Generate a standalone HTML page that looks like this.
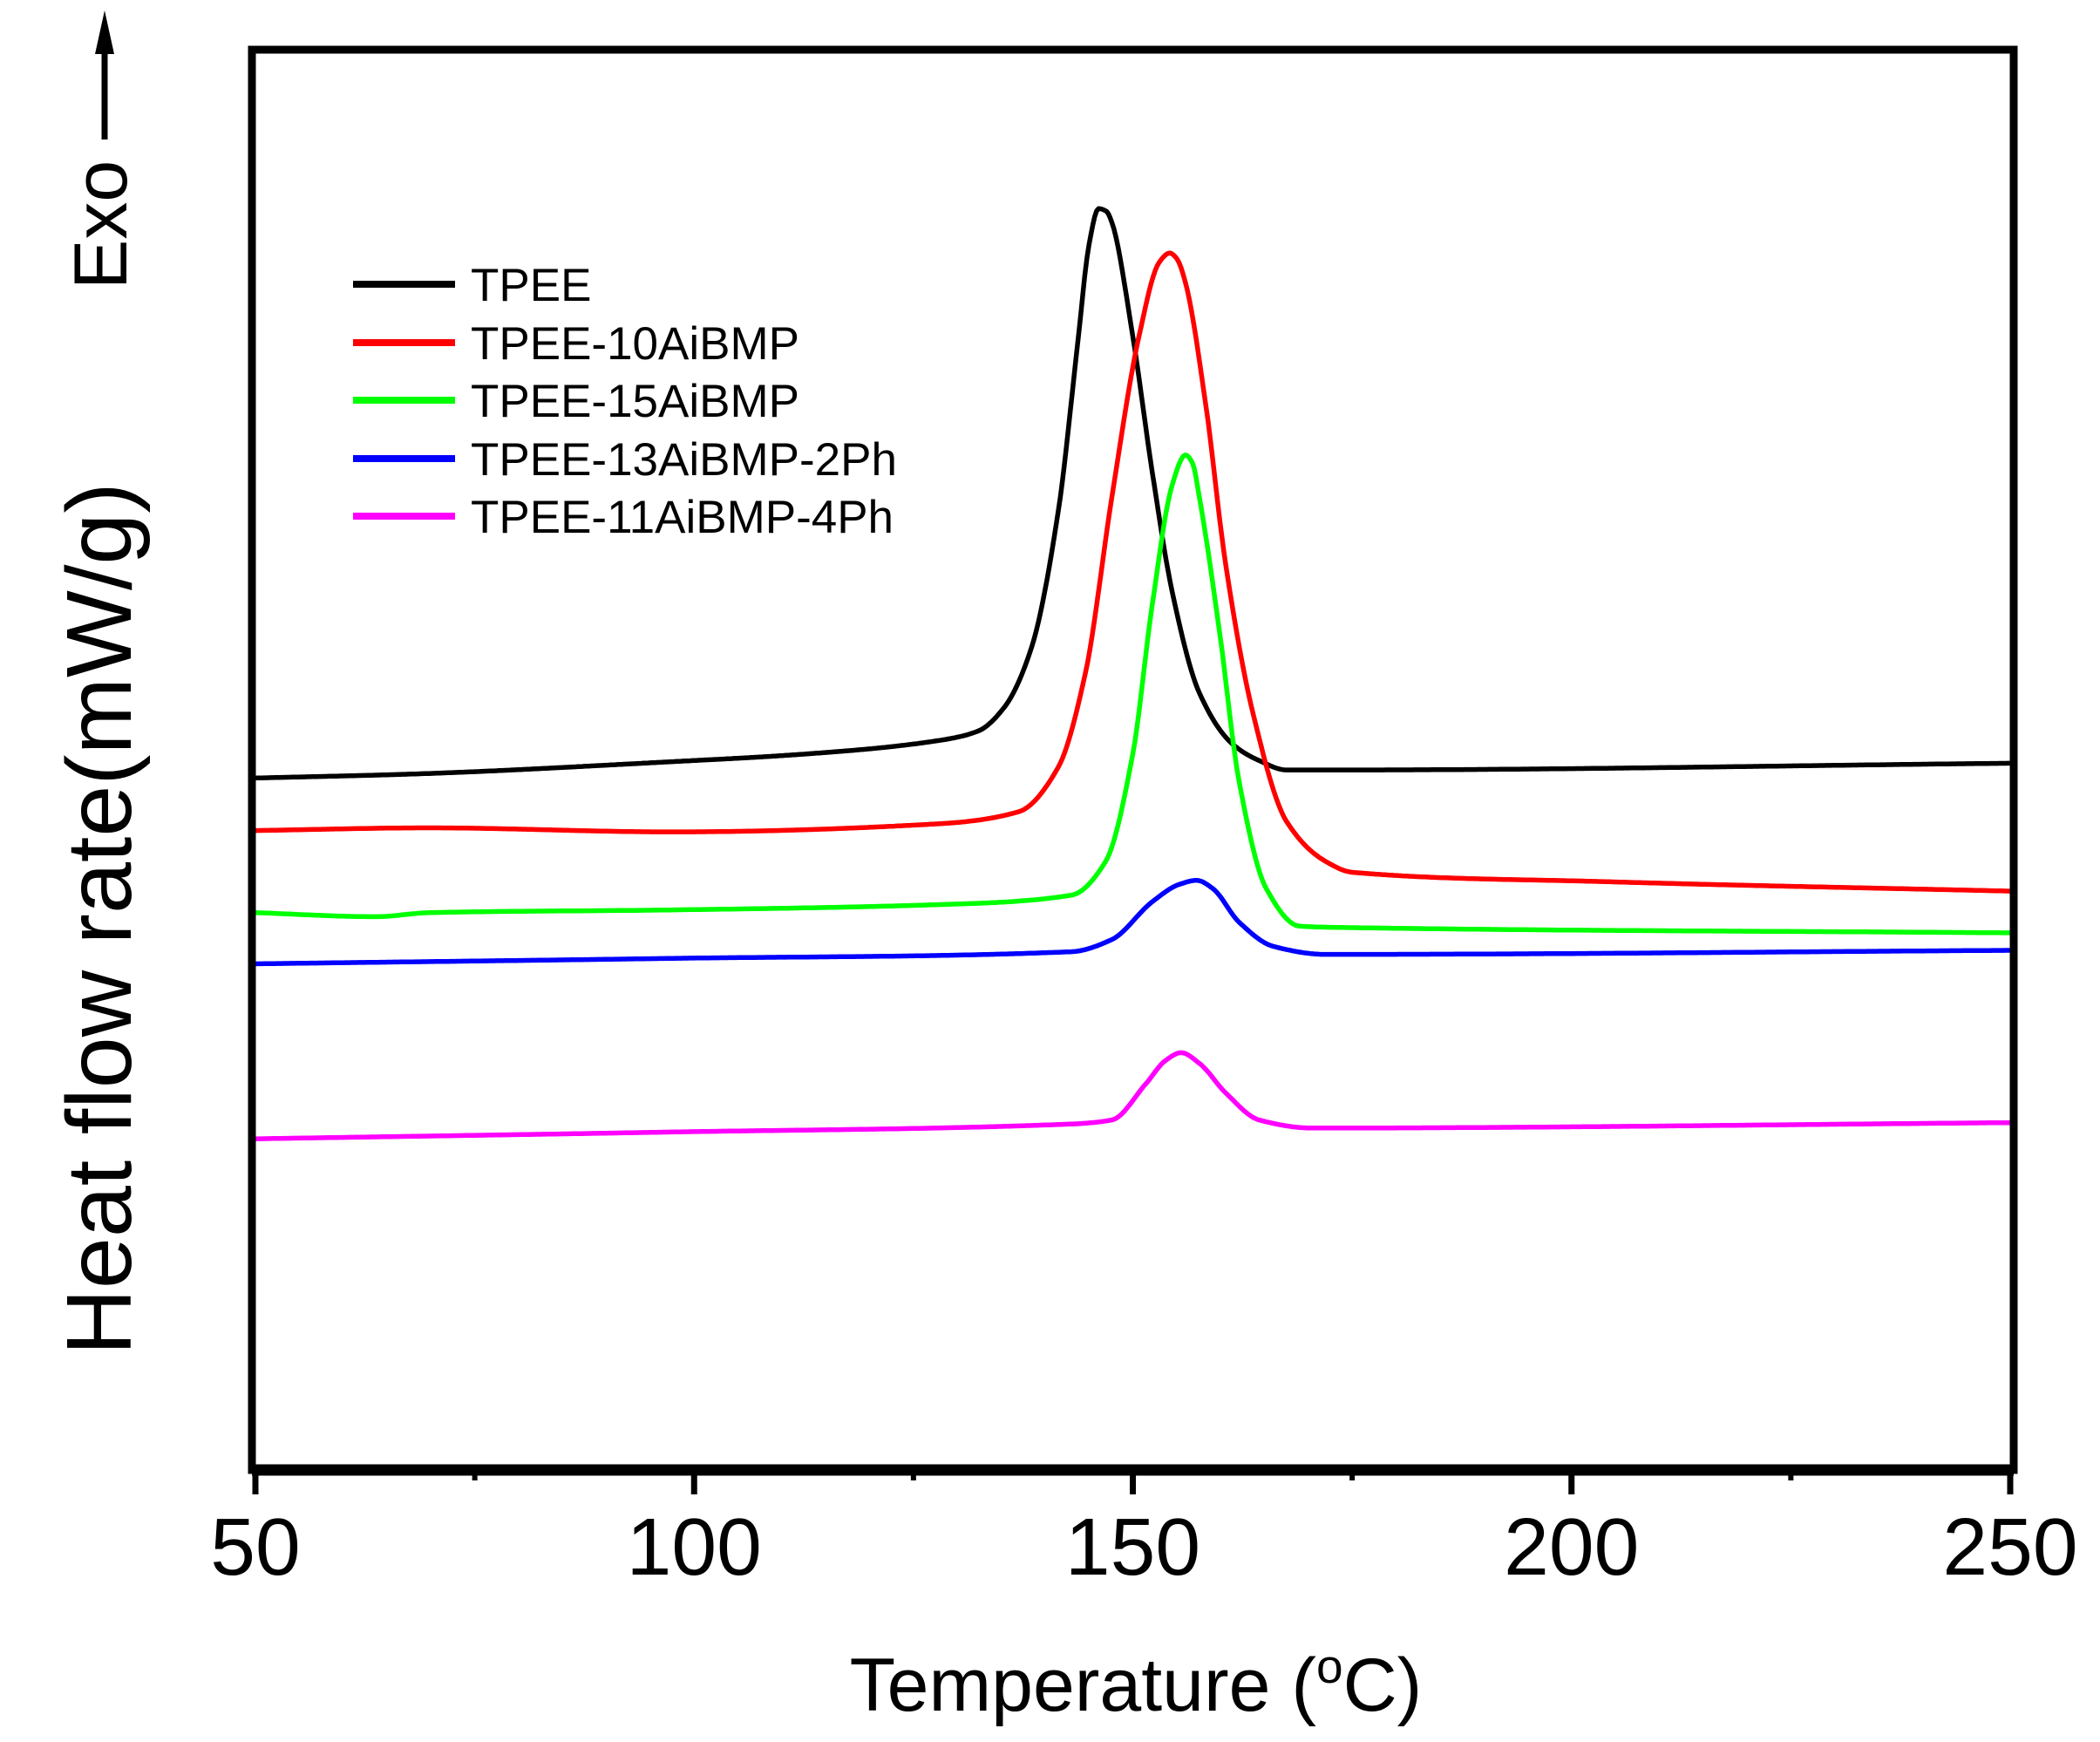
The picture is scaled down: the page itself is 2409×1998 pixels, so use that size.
<!DOCTYPE html>
<html><head><meta charset="utf-8"><style>
html,body{margin:0;padding:0;background:#fff;}
svg{display:block;font-family:"Liberation Sans",Arial,sans-serif;}
</style></head><body>
<svg id="chart" width="2409" height="1998" viewBox="0 0 2409 1998">
<g id="plot"></g>
<g id="axes"></g>
<g id="legend"></g>
<text x="1303" y="1962" font-size="86" text-anchor="middle">Temperature (<tspan font-size="55" dy="-32">o</tspan><tspan dy="32">C)</tspan></text>
<text transform="translate(150,1054) rotate(-90)" font-size="106" text-anchor="middle">Heat flow rate(mW/g)</text>
<text transform="translate(145,332) rotate(-90)" font-size="86">Exo</text>
<line x1="120" y1="160" x2="120" y2="55" stroke="#000" stroke-width="7"/>
<polygon points="120,12 109,62 131,62" fill="#000"/>
</svg>
<script>
const tempsTPEE=[50,68,97,113,128,132.4,135.4,138.5,141.5,143.8,145,146.1,147,147.6,150,152.2,154.5,157.6,161.4,164.4,167.5,173.6,250];
const valsTPEE=[514,517,526,532,542,549,567,612,712,842,910,937,935,927,842,742,652,577,539,527,520,520,525];
const temps10=[50,69.8,97.3,127.8,137,141.5,144.6,147.6,150.7,153,154.2,155,156,158.3,160.6,163.7,167.5,172,175,204,250];
const vals10=[475,477,474,480,489,522,592,722,842,897,904,900,882,792,672,562,482,452,444,437,430];
const temps15=[50,63.7,69.8,97,128,143,146.9,150,152.2,154.5,156,156.8,157.6,159.9,162.1,165.2,169,173.6,250];
const vals15=[414,411,414,416,420,427,452,532,642,732,754,748,722,622,512,432,404,403,399];
const temps13=[50,97,143,147.6,152.2,155.3,157.3,159.1,162.1,166,172,250];
const vals13=[376,380,385,394,422,435,438,432,407,389,383,386];
const temps11=[50,97,143,147.6,151.5,153.7,155.5,157.6,160.6,164.4,170.5,250];
const vals11=[246,251,257,260,287,304,310,302,280,260,254,258];
const seriesNames=["TPEE","TPEE-10AiBMP","TPEE-15AiBMP","TPEE-13AiBMP-2Ph","TPEE-11AiBMP-4Ph"];
const seriesColors=["#000000","#ff0000","#00ff00","#0000ff","#ff00ff"];
const xTicks=[50,100,150,200,250];
const xMinor=[75,125,175,225];

const NS="http://www.w3.org/2000/svg";
const X0=293,X1=2306,Y0=1686;
function xs(t){return X0+(t-50)/200*(X1-X0);}
function ys(v){return Y0-v*1.544;}
function mk(tag,attrs,parent){const e=document.createElementNS(NS,tag);for(const k in attrs)e.setAttribute(k,attrs[k]);parent.appendChild(e);return e;}
function pathFor(ts,vs){
  const n=ts.length,h=[],d=[],m=new Array(n);
  for(let i=0;i<n-1;i++){h[i]=ts[i+1]-ts[i];d[i]=(vs[i+1]-vs[i])/h[i];}
  m[0]=d[0];m[n-1]=d[n-2];
  for(let i=1;i<n-1;i++){
    if(d[i-1]*d[i]<=0)m[i]=0;
    else{const w1=2*h[i]+h[i-1],w2=h[i]+2*h[i-1];m[i]=(w1+w2)/(w1/d[i-1]+w2/d[i]);}
  }
  let p="M"+xs(ts[0]).toFixed(1)+","+ys(vs[0]).toFixed(1);
  for(let i=0;i<n-1;i++){
    const steps=Math.max(2,Math.ceil(h[i]*4));
    for(let s=1;s<=steps;s++){
      const u=s/steps,t=ts[i]+u*h[i];
      const h00=2*u*u*u-3*u*u+1,h10=u*u*u-2*u*u+u,h01=-2*u*u*u+3*u*u,h11=u*u*u-u*u;
      const v=h00*vs[i]+h10*h[i]*m[i]+h01*vs[i+1]+h11*h[i]*m[i+1];
      p+=" L"+xs(t).toFixed(1)+","+ys(v).toFixed(1);
    }
  }
  return p;
}
const plot=document.getElementById('plot');
const all=[[tempsTPEE,valsTPEE],[temps10,vals10],[temps15,vals15],[temps13,vals13],[temps11,vals11]];
all.forEach((s,i)=>{
  const el=mk('path',{d:pathFor(s[0],s[1]),fill:'none',stroke:seriesColors[i],'stroke-width':5.5,'stroke-linejoin':'round'},plot);
  
  
});
const axes=document.getElementById('axes');
const fr=mk('rect',{x:X0-4,y:57,width:X1-X0+8,height:Y0-57,fill:'none',stroke:'#000','stroke-width':9},axes);


const bl=mk('line',{x1:X0-4,y1:Y0,x2:X1+4,y2:Y0,stroke:'#000','stroke-width':13},axes);


xTicks.forEach(t=>{
  const l=mk('line',{x1:xs(t),y1:Y0,x2:xs(t),y2:1714,stroke:'#000','stroke-width':7},axes);
  
  
  const tx=mk('text',{x:xs(t),y:1806,'font-size':93,'text-anchor':'middle'},axes);
  tx.textContent=t;
  
  
});
xMinor.forEach(t=>{
  const l=mk('line',{x1:xs(t),y1:Y0,x2:xs(t),y2:1698,stroke:'#000','stroke-width':6},axes);
  
  
});
const leg=document.getElementById('legend');
const rowsY=[326,393,459,526,592];
seriesNames.forEach((n,i)=>{
  const l=mk('line',{x1:405,y1:rowsY[i],x2:522,y2:rowsY[i],stroke:seriesColors[i],'stroke-width':8},leg);
  
  
  const t=mk('text',{x:540,y:rowsY[i]+19,'font-size':53},leg);
  t.textContent=n;
  
  
});
</script>
</body></html>
